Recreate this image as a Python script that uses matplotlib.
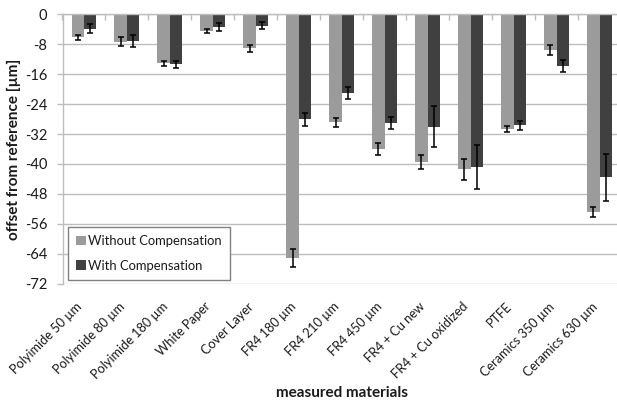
import matplotlib
matplotlib.use("Agg")
import matplotlib.pyplot as plt
import numpy as np

categories = ["Polyimide 50 µm", "Polyimide 80 µm", "Polyimide 180 µm", "White Paper",
              "Cover Layer", "FR4 180 µm", "FR4 210 µm", "FR4 450 µm", "FR4 + Cu new",
              "FR4 + Cu oxidized", "PTFE", "Ceramics 350 µm", "Ceramics 630 µm"]
without_comp = [-6.2, -7.3, -13.1, -4.5, -9.1, -65.1, -28.8, -36.1, -39.5, -41.4, -30.6, -9.5, -52.9]
without_err = [0.7, 1.3, 0.6, 0.6, 0.9, 2.4, 1.2, 1.6, 1.8, 2.8, 0.75, 1.3, 1.3]
with_comp = [-3.9, -7.1, -13.4, -3.3, -3.0, -28.1, -21.0, -29.0, -30.0, -40.7, -29.7, -13.8, -43.6]
with_err = [1.2, 1.6, 1.0, 1.1, 0.9, 1.7, 1.6, 1.6, 5.5, 5.9, 1.2, 1.6, 6.3]
yticks = [0, -8, -16, -24, -32, -40, -48, -56, -64, -72]

plt.rcParams['font.family'] = ['Lato', 'DejaVu Sans']

W, H = 617, 401
fig = plt.figure(figsize=(W / 100, H / 100), dpi=100)
left_px, right_px, top_px, bot_px = 62.5, 621.0, 14.3, 283.7
ax = fig.add_axes([left_px / W, 1 - bot_px / H, (right_px - left_px) / W, (bot_px - top_px) / H])

light = "#9b9b9b"
dark = "#404040"
grid = "#bdbdbd"
txt = "#1a1a1a"

x = np.arange(len(categories))
bw = 0.29
ax.bar(x - bw / 2, without_comp, bw, color=light, label="Without Compensation", zorder=2)
ax.bar(x + bw / 2, with_comp, bw, color=dark, label="With Compensation", zorder=2)
ekw = dict(fmt="none", ecolor="black", elinewidth=1.1, capsize=2.2, capthick=1.1, zorder=3)
ax.errorbar(x - bw / 2, without_comp, yerr=without_err, **ekw)
ax.errorbar(x + bw / 2, with_comp, yerr=with_err, **ekw)

ax.set_xlim(-0.5, len(categories) - 0.5)
ax.set_ylim(-72, 0)
ax.set_yticks(yticks)
ax.set_yticklabels([str(v) for v in yticks], fontsize=10.5, color=txt)
ax.yaxis.grid(True, color=grid, linewidth=1.0, zorder=0)
ax.set_axisbelow(True)
ax.tick_params(axis='y', length=4, width=1.0, color=grid, pad=7)

for s in ["right", "bottom"]:
    ax.spines[s].set_visible(False)
ax.spines["top"].set_color(grid)
ax.spines["top"].set_linewidth(1.0)
ax.spines["left"].set_color(grid)
ax.spines["left"].set_linewidth(1.0)

# category axis ticks at y=0 pointing down, between groups
ax.set_xticks(np.arange(len(categories) + 1) - 0.5, minor=True)
ax.tick_params(axis='x', which='minor', top=True, bottom=False, direction='in', length=4, color=grid, width=1.0)
ax.set_xticks(x)
ax.set_xticklabels(categories, rotation=45, ha='right', va='top', fontsize=9.2, color=txt)
ax.tick_params(axis='x', which='major', length=0, pad=12)

ax.set_ylabel("offset from reference [µm]", fontsize=11, fontweight='bold', labelpad=3, color=txt)
ax.set_xlabel("measured materials", fontsize=11, fontweight='bold', color=txt)
ax.xaxis.set_label_coords((342 - left_px) / (right_px - left_px), -(393 - bot_px) / (bot_px - top_px))
ax.xaxis.label.set_va('center')

leg = ax.legend(loc='lower left', bbox_to_anchor=(0.0098, 0.0137), borderaxespad=0,
                fancybox=False, edgecolor="#808080", framealpha=1, fontsize=9.4,
                handlelength=0.7, handleheight=0.7, handletextpad=0.2,
                labelspacing=0.95, borderpad=0.65)
leg.get_frame().set_linewidth(1.0)
for t in leg.get_texts():
    t.set_color(txt)

fig.savefig("out.png", dpi=100)
